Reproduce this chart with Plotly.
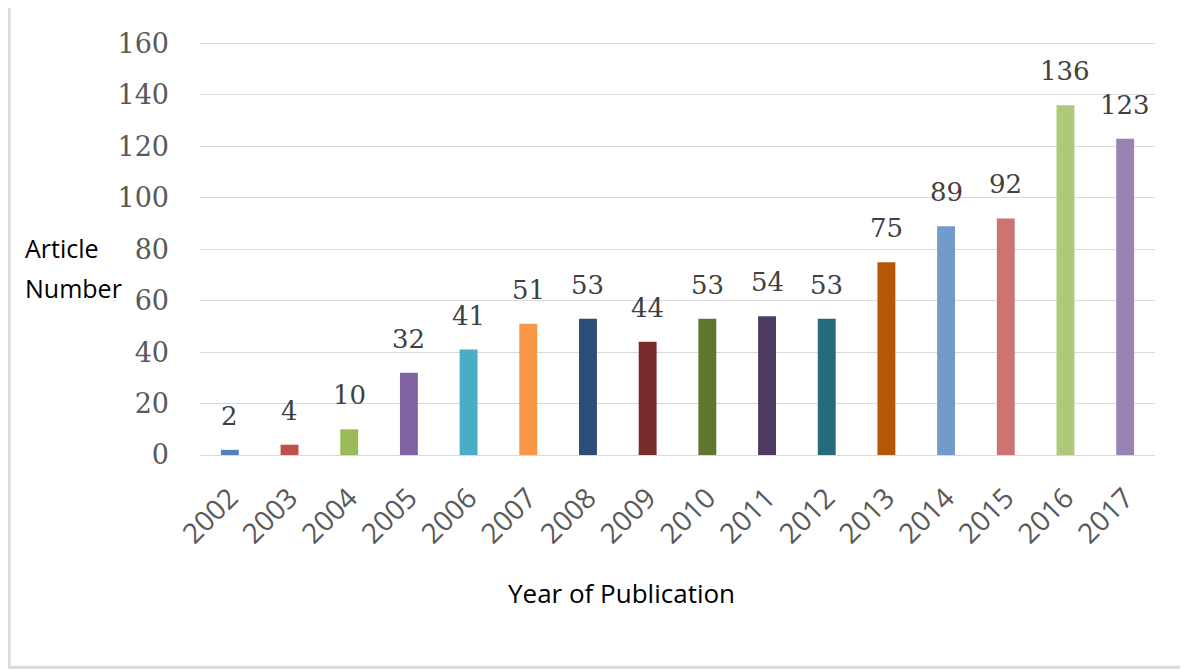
import plotly.graph_objects as go

years = ["2002", "2003", "2004", "2005", "2006", "2007", "2008", "2009",
         "2010", "2011", "2012", "2013", "2014", "2015", "2016", "2017"]
counts = [2, 4, 10, 32, 41, 51, 53, 44, 53, 54, 53, 75, 89, 92, 136, 123]
colors = ["#4F81BD", "#C0504D", "#9BBB59", "#8064A2", "#4BACC6", "#F79646",
          "#2C4D75", "#772C2A", "#5F7530", "#4D3B62", "#276A7C", "#B65708",
          "#729ACA", "#CD7371", "#AFC97A", "#9983B5"]
y_ticks = [0, 20, 40, 60, 80, 100, 120, 140, 160]

OFF = 8  # page body margin
W, H = 1188 - OFF, 669 - OFF
YMAX = 160.6
L, R, B = 200 - OFF, 1155 - OFF, 455 - OFF
PXU = (455 - 44) / 160.0
T = B - YMAX * PXU

fig = go.Figure(go.Bar(
    x=years, y=counts, marker_color=colors, marker_line_width=0,
))

for i, c in enumerate(counts):
    fig.add_annotation(x=i, y=c, text=str(c), showarrow=False,
                       xanchor="center", yanchor="bottom", yshift=17,
                       font=dict(family="DejaVu Serif", size=26, color="#404040"))

def px(x):
    return (x - OFF - L) / (R - L)

def py(y):
    return (B - (y - OFF)) / (B - T)

fig.update_layout(
    width=W, height=H,
    margin=dict(l=L, r=W - R, t=T, b=H - B),
    plot_bgcolor="white", paper_bgcolor="white",
    bargap=0.70,
    showlegend=False,
    xaxis=dict(
        type="category", range=[-0.5, len(years) - 0.5],
        tickangle=-45, tickfont=dict(family="Open Sans", size=28, color="#595959"),
        showgrid=False, showline=False, ticks="", automargin=False,
        ticklabelstandoff=20,
    ),
    yaxis=dict(
        range=[0, YMAX], tickvals=y_ticks, showgrid=True, gridcolor="#D9D9D9",
        gridwidth=1.2, zeroline=True, zerolinecolor="#D9D9D9", zerolinewidth=1.2,
        tickfont=dict(family="DejaVu Serif", size=27, color="#595959"),
        ticks="", automargin=False, ticklabelstandoff=30,
    ),
    shapes=[dict(type="rect", xref="paper", yref="paper",
                 x0=px(9), x1=px(1195), y0=py(667), y1=py(6),
                 line=dict(color="#D9D9D9", width=3))],
)

fig.add_annotation(text="Year of Publication", xref="paper", yref="paper",
                   x=px(621), y=py(593), xanchor="center", yanchor="middle",
                   showarrow=False,
                   font=dict(family="Open Sans", size=26, color="#000000"))
fig.add_annotation(text="Article", xref="paper", yref="paper",
                   x=px(23), y=py(248), xanchor="left", yanchor="middle",
                   showarrow=False,
                   font=dict(family="Open Sans", size=25, color="#000000"))
fig.add_annotation(text="Number", xref="paper", yref="paper",
                   x=px(23), y=py(288), xanchor="left", yanchor="middle",
                   showarrow=False,
                   font=dict(family="Open Sans", size=25, color="#000000"))

fig.write_html("out.html")
